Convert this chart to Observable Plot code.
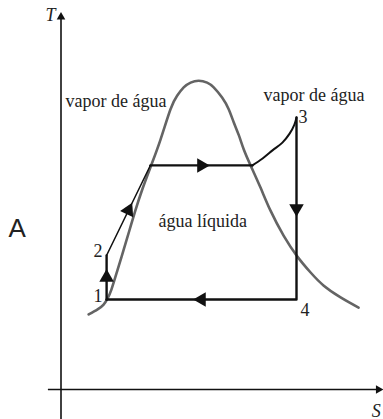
<!DOCTYPE html>
<html><head><meta charset="utf-8">
<script src="https://cdn.jsdelivr.net/npm/d3@7"></script>
<script src="https://cdn.jsdelivr.net/npm/@observablehq/plot@0.6"></script>
<style>html,body{margin:0;padding:0;background:#fff}#chart svg{display:block}</style>
</head><body><div id="chart"></div>
<script>
// Saturation dome (entropy S, temperature T in arbitrary units)
const domeS = [0.92,1.22,1.42,1.55,1.68,1.88,2.08,2.28,2.48,2.72,3.02,3.32,3.65,3.87,4.09,4.32,4.59,4.87,5.09,5.37,5.59,5.76,5.93,6.09,6.32,6.65,6.98,7.42,7.88,8.32,8.75,9.32,9.92];
const domeT = [2.50,2.67,2.83,3.03,3.33,3.97,4.63,5.30,5.97,6.70,7.51,8.34,9.34,9.79,10.07,10.23,10.29,10.23,10.07,9.73,9.34,8.90,8.47,8.01,7.47,6.73,5.97,5.13,4.43,3.90,3.47,3.07,2.73];

// Cycle state points
const stateNames = ["1","2","3","4"];
const stateS = [1.52,1.52,7.85,7.85];
const stateT = [3.00,4.47,9.07,3.00];

// Boiling line (constant T) endpoints
const boilS = [2.98,6.38];
const boilT = [7.47,7.47];

// Superheating curve up to state 3
const superS = [6.38,6.72,7.05,7.38,7.62,7.78,7.85];
const superT = [7.47,7.70,7.97,8.23,8.53,8.83,9.07];

// Region labels
const regionText = ["vapor de água","vapor de água","água líquida"];
const regionS = [0.15,6.75,3.25];
const regionT = [9.43,9.63,5.43];

// Axis labels
const axisText = ["T","S"];
const axisS = [-0.52,10.36];
const axisT = [12.27,-0.90];
const panelLabel = "A";

// axis extents
const yAxisT = [-1.0,12.42];
const xAxisS = [-0.42,10.58];

const dome = domeS.map((s,i)=>({S:s,T:domeT[i]}));
const states = stateNames.map((n,i)=>({name:n,S:stateS[i],T:stateT[i]}));
const P = Object.fromEntries(states.map(d=>[d.name,d]));
const boil = boilS.map((s,i)=>({S:s,T:boilT[i]}));
const superheat = superS.map((s,i)=>({S:s,T:superT[i]}));
const regions = regionText.map((t,i)=>({text:t,S:regionS[i],T:regionT[i]}));
const axisLabels = axisText.map((t,i)=>({text:t,S:axisS[i],T:axisT[i]}));

// directed segments of the cycle, arrowheads at their midpoints
const segs = [
  [P["1"], P["2"]],
  [P["2"], boil[0]],
  [boil[0], boil[1]],
  [P["3"], P["4"]],
  [P["4"], P["1"]]
];
const arrows = segs.map(([a,b])=>({
  S:(a.S+b.S)/2, T:(a.T+b.T)/2,
  rot: Math.atan2(b.S-a.S, b.T-a.T)*180/Math.PI
}));
const axisHeads = [{S:0,T:yAxisT[1],rot:0},{S:xAxisS[1],T:0,rot:90}];

const serif = "'Liberation Serif','Times New Roman',serif";
const ink = "#111";

const chart = Plot.plot({
  width:383, height:419, margin:0,
  x:{domain:[0,10], range:[60.5,360.5], axis:null},
  y:{domain:[0,10], range:[389,89], axis:null},
  style:{background:"#fff", fontFamily:serif},
  marks:[
    Plot.ruleX([0],{y1:yAxisT[0], y2:yAxisT[1], stroke:ink, strokeWidth:1.6}),
    Plot.ruleY([0],{x1:xAxisS[0], x2:xAxisS[1], stroke:ink, strokeWidth:1.6}),
    Plot.dot(axisHeads,{x:"S",y:"T",rotate:"rot",symbol:"triangle",r:3.2,fill:ink,stroke:"none"}),
    Plot.line(dome,{x:"S",y:"T",curve:"natural",stroke:"#646464",strokeWidth:2.6}),
    Plot.line([P["2"], boil[0]],{x:"S",y:"T",stroke:ink,strokeWidth:1.4}),
    Plot.line([P["1"],P["2"]],{x:"S",y:"T",stroke:ink,strokeWidth:2.4}),
    Plot.line(boil,{x:"S",y:"T",stroke:ink,strokeWidth:2.4}),
    Plot.line(superheat,{x:"S",y:"T",curve:"catmull-rom",stroke:ink,strokeWidth:2}),
    Plot.line([P["3"],P["4"],P["1"]],{x:"S",y:"T",stroke:ink,strokeWidth:2.4}),
    Plot.dot(arrows,{x:"S",y:"T",rotate:"rot",symbol:"triangle",r:5.4,fill:ink,stroke:"none"}),
    Plot.text(states.filter(d=>d.name==="1"||d.name==="2"),{x:"S",y:"T",text:"name",textAnchor:"end",lineAnchor:"bottom",dx:-4,dy:2,fontSize:18,fill:"#222"}),
    Plot.text(states.filter(d=>d.name==="3"),{x:"S",y:"T",text:"name",textAnchor:"start",lineAnchor:"bottom",dx:2,dy:6,fontSize:18,fill:"#222"}),
    Plot.text(states.filter(d=>d.name==="4"),{x:"S",y:"T",text:"name",textAnchor:"start",lineAnchor:"bottom",dx:4,dy:16,fontSize:18,fill:"#222"}),
    Plot.text(regions,{x:"S",y:"T",text:"text",textAnchor:"start",lineAnchor:"bottom",fontSize:18,fill:"#222"}),
    Plot.text(axisLabels,{x:"S",y:"T",text:"text",textAnchor:"start",lineAnchor:"bottom",fontSize:18,fontStyle:"italic",fill:"#222"}),
    Plot.text([panelLabel],{x:-1.75,y:5.1,text:d=>d,textAnchor:"start",lineAnchor:"bottom",fontSize:26,fontFamily:"'Liberation Sans',Arial,sans-serif",fill:"#222"})
  ]
});
document.getElementById("chart").appendChild(chart);
</script>
</body></html>
